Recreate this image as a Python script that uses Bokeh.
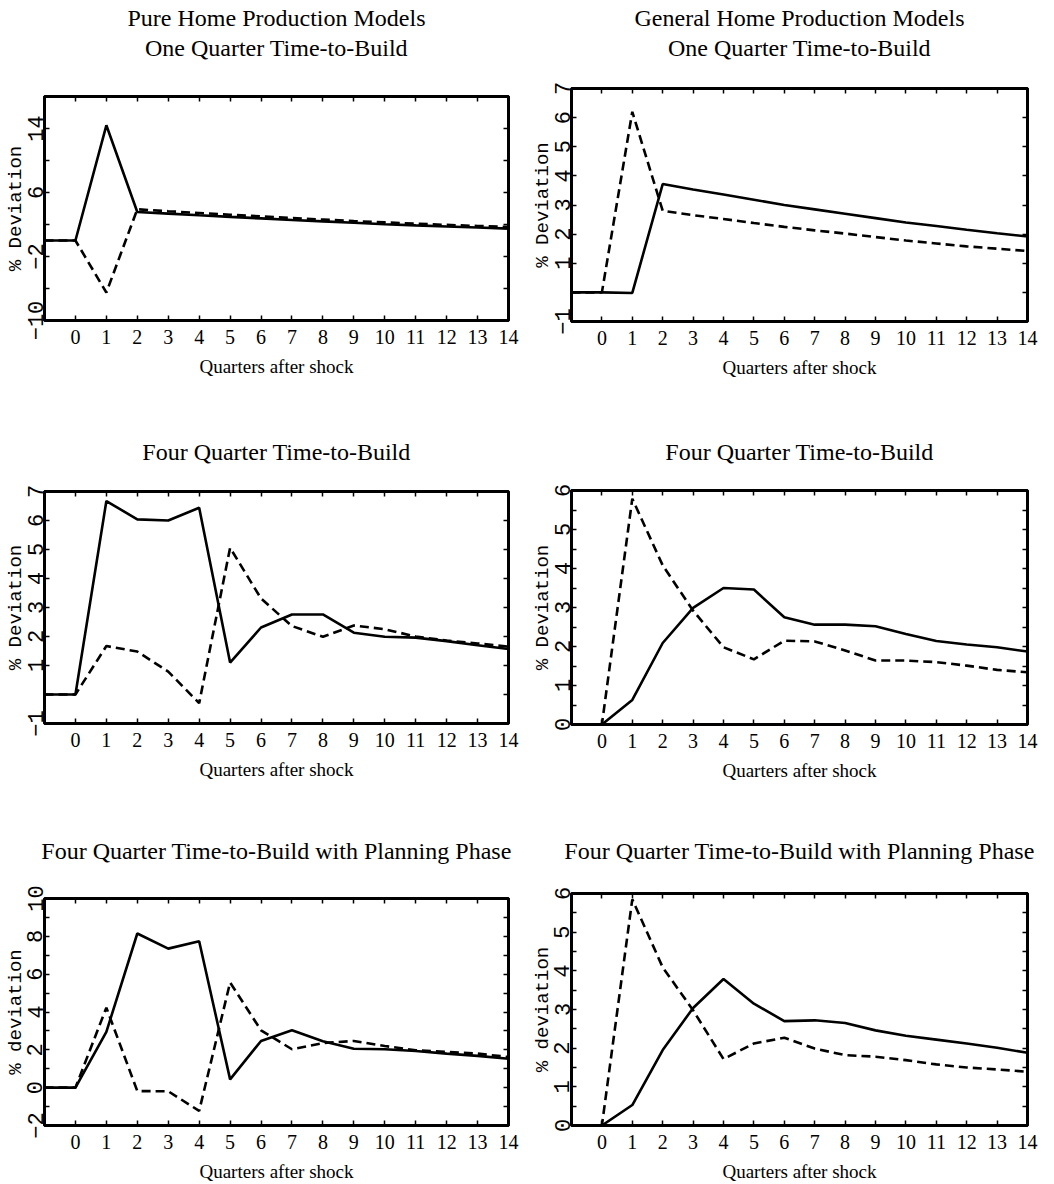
from bokeh.plotting import figure
from bokeh.models import LinearAxis, FixedTicker, Title, Range1d
from bokeh.layouts import column, row
from bokeh.embed import file_html
from bokeh.resources import INLINE

# ---------------- data ----------------
quarters = list(range(-1, 15))
x_ticks = list(range(-1, 15))
x_tick_labels = {str(q): ("" if q < 0 else str(q)) for q in x_ticks}

# Pure home production, one quarter time-to-build
pure1_solid = [0, 0, 14.4, 3.57, 3.36, 3.15, 2.95, 2.76, 2.57, 2.39, 2.21, 2.04, 1.89, 1.75, 1.62, 1.49]
pure1_dashed = [0, 0, -6.5, 3.9, 3.66, 3.44, 3.22, 3.01, 2.81, 2.62, 2.43, 2.26, 2.1, 1.95, 1.82, 1.7]
# General home production, one quarter time-to-build
gen1_solid = [0, 0, -0.02, 3.72, 3.53, 3.36, 3.18, 3.0, 2.85, 2.7, 2.55, 2.4, 2.28, 2.15, 2.03, 1.92]
gen1_dashed = [0, 0, 6.2, 2.8, 2.65, 2.52, 2.38, 2.25, 2.13, 2.02, 1.9, 1.78, 1.68, 1.58, 1.5, 1.42]
# Pure, four quarter time-to-build
pure4_solid = [0, 0, 6.67, 6.04, 6.0, 6.44, 1.1, 2.31, 2.76, 2.76, 2.13, 1.99, 1.96, 1.84, 1.7, 1.57]
pure4_dashed = [0, 0, 1.67, 1.48, 0.79, -0.3, 5.06, 3.31, 2.36, 1.99, 2.38, 2.25, 2.0, 1.86, 1.76, 1.65]
# General, four quarter time-to-build
gen4_solid = [0, 0, 0.63, 2.09, 2.99, 3.5, 3.46, 2.75, 2.56, 2.56, 2.52, 2.32, 2.14, 2.05, 1.98, 1.87]
gen4_dashed = [0, 0, 5.79, 4.08, 2.92, 1.98, 1.67, 2.15, 2.13, 1.9, 1.64, 1.64, 1.6, 1.51, 1.4, 1.34]
# Pure, four quarter with planning phase
purep_solid = [0, 0, 2.95, 8.15, 7.35, 7.74, 0.44, 2.47, 3.03, 2.45, 2.06, 2.03, 1.94, 1.8, 1.68, 1.53]
purep_dashed = [0, 0, 4.23, -0.18, -0.19, -1.23, 5.56, 3.03, 2.03, 2.36, 2.47, 2.2, 1.98, 1.89, 1.8, 1.62]
# General, four quarter with planning phase
genp_solid = [0, 0, 0.53, 1.95, 3.04, 3.79, 3.15, 2.7, 2.72, 2.65, 2.46, 2.32, 2.22, 2.12, 2.01, 1.88]
genp_dashed = [0, 0, 5.85, 4.09, 2.98, 1.72, 2.12, 2.27, 1.99, 1.82, 1.78, 1.69, 1.58, 1.5, 1.45, 1.39]

# y ticks and labels per panel
y1_ticks = [-10, -6, -2, 2, 6, 10, 14, 18]
y1_labels = {"-10": "\u221210", "-6": "", "-2": "\u22122", "2": "", "6": "6", "10": "", "14": "14", "18": ""}
y2_ticks = [-1, 0, 1, 2, 3, 4, 5, 6, 7]
y2_labels = {"-1": "\u22121", "0": "", "1": "1", "2": "2", "3": "3", "4": "4", "5": "5", "6": "6", "7": "7"}
y4_ticks = [0, 1, 2, 3, 4, 5, 6]
y4_minor = [0.5, 1.5, 2.5, 3.5, 4.5, 5.5]
y4_labels = {"0": "0", "1": "1", "2": "2", "3": "3", "4": "4", "5": "5", "6": "6"}
y5_ticks = [-2, -1, 0, 1, 2, 3, 4, 5, 6, 7, 8, 9, 10]
y5_labels = {"-2": "\u22122", "-1": "", "0": "0", "1": "", "2": "2", "3": "", "4": "4", "5": "",
             "6": "6", "7": "", "8": "8", "9": "", "10": "10"}

TITLE_FONT = "Liberation Serif"
TICK_FONT = "Liberation Serif"
MONO = "Liberation Mono"


def style_edge_axis(ax):
    ax.axis_line_width = 3
    ax.axis_line_color = "black"
    ax.major_tick_in = 5
    ax.major_tick_out = 0
    ax.minor_tick_in = 5
    ax.minor_tick_out = 0
    ax.major_tick_line_width = 1.5
    ax.minor_tick_line_width = 1.5


def panel(titles, gap, ylabel, solid, dashed, yr, yticks, ylabels, yminor,
          width, height, b_left, b_right, b_top, b_bottom):
    p = figure(width=width, height=height, x_range=Range1d(-1, 14), y_range=Range1d(*yr),
               output_backend="svg", toolbar_location=None,
               min_border_left=b_left, min_border_right=b_right,
               min_border_top=b_top, min_border_bottom=b_bottom)
    p.xgrid.visible = False
    p.ygrid.visible = False
    p.outline_line_color = "black"
    p.outline_line_width = 3
    p.background_fill_color = "white"
    p.border_fill_color = "white"

    # lines
    p.line(quarters, solid, line_color="black", line_width=2.6)
    p.line(quarters, dashed, line_color="black", line_width=2.6, line_dash="9 5")

    # bottom axis
    xa = p.xaxis[0]
    xa.ticker = FixedTicker(ticks=x_ticks, minor_ticks=[])
    xa.major_label_overrides = {int(k): v for k, v in x_tick_labels.items()}
    xa.major_label_text_font = TICK_FONT
    xa.major_label_text_font_size = "20px"
    xa.major_label_text_color = "black"
    xa.major_label_standoff = 9
    xa.axis_label = "Quarters after shock"
    xa.axis_label_text_font = TICK_FONT
    xa.axis_label_text_font_size = "19px"
    xa.axis_label_text_font_style = "normal"
    xa.axis_label_text_color = "black"
    xa.axis_label_standoff = 9
    # left axis
    ya = p.yaxis[0]
    ya.ticker = FixedTicker(ticks=yticks, minor_ticks=yminor)
    ya.major_label_overrides = {int(k): v for k, v in ylabels.items()}
    ya.major_label_text_font = MONO
    ya.major_label_text_font_size = "22px"
    ya.major_label_text_color = "black"
    ya.major_label_orientation = "vertical"
    ya.major_label_standoff = 2
    ya.axis_label = ylabel
    ya.axis_label_text_font = MONO
    ya.axis_label_text_font_size = "19px"
    ya.axis_label_text_font_style = "normal"
    ya.axis_label_text_color = "black"
    ya.axis_label_standoff = -2
    style_edge_axis(xa)
    style_edge_axis(ya)

    # top and right axes: inward ticks only
    top = LinearAxis(ticker=FixedTicker(ticks=x_ticks, minor_ticks=[]))
    right = LinearAxis(ticker=FixedTicker(ticks=yticks, minor_ticks=yminor))
    for ax in (top, right):
        ax.major_label_text_font_size = "0px"
        ax.major_label_text_alpha = 0
        ax.major_label_standoff = 0
        style_edge_axis(ax)
    p.add_layout(top, "above")
    p.add_layout(right, "right")

    # invisible spacer between frame and titles
    spacer = LinearAxis(ticker=FixedTicker(ticks=x_ticks, minor_ticks=[]))
    spacer.major_label_text_font_size = "0px"
    spacer.major_label_text_alpha = 0
    spacer.major_label_standoff = 0
    spacer.axis_line_alpha = 0
    spacer.major_tick_in = 0
    spacer.major_tick_out = gap
    spacer.major_tick_line_alpha = 0
    spacer.minor_tick_in = 0
    spacer.minor_tick_out = 0
    p.add_layout(spacer, "above")

    # titles (closest to frame first)
    for i, text in enumerate(reversed(titles)):
        t = Title(text=text, align="center", text_font=TITLE_FONT, text_font_size="24px",
                  text_font_style="normal", text_color="black", standoff=(0 if i == 0 else 4))
        p.add_layout(t, "above")
    return p


p1 = panel(["Pure Home Production Models", "One Quarter Time-to-Build"], 36, "% Deviation",
           pure1_solid, pure1_dashed, (-10, 18), y1_ticks, y1_labels, [],
           527, 395, 44, 19, 96, 75)
p2 = panel(["General Home Production Models", "One Quarter Time-to-Build"], 28, "% Deviation",
           gen1_solid, gen1_dashed, (-1, 7), y2_ticks, y2_labels, [],
           527, 395, 44, 27, 88, 74)
p3 = panel(["Four Quarter Time-to-Build"], 27, "% Deviation",
           pure4_solid, pure4_dashed, (-1, 7), y2_ticks, y2_labels, [],
           527, 403, 44, 19, 96, 75)
p4 = panel(["Four Quarter Time-to-Build"], 26, "% Deviation",
           gen4_solid, gen4_dashed, (0, 6), y4_ticks, y4_labels, y4_minor,
           527, 403, 44, 27, 95, 74)
p5 = panel(["Four Quarter Time-to-Build with Planning Phase"], 35, "% deviation",
           purep_solid, purep_dashed, (-2, 10), y5_ticks, y5_labels, [],
           527, 386, 44, 19, 100, 59)
p6 = panel(["Four Quarter Time-to-Build with Planning Phase"], 30, "% deviation",
           genp_solid, genp_dashed, (0, 6), y4_ticks, y4_labels, y4_minor,
           527, 386, 44, 27, 95, 58)

layout = column(row(column(p1), column(p2)),
                row(column(p3), column(p4)),
                row(column(p5), column(p6)))
open("out.html", "w").write(file_html(layout, INLINE))
